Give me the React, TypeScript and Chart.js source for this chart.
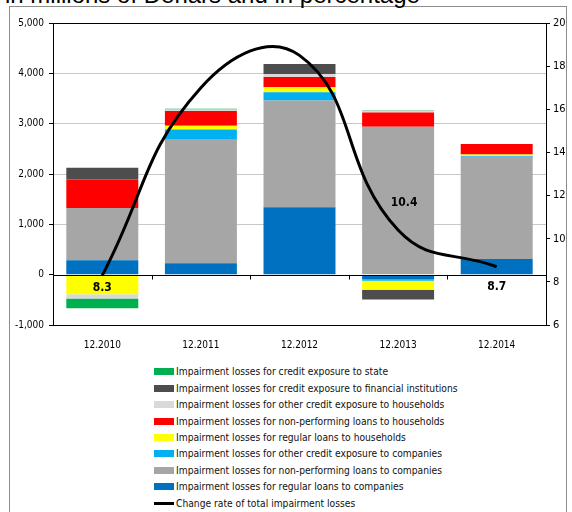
import React, { useEffect, useRef } from 'react';
import { Chart, registerables } from 'chart.js';
Chart.register(...registerables);

const categories = ['12.2010', '12.2011', '12.2012', '12.2013', '12.2014'];

const regularCompanies = [285, 225, 1340, -90, 310];
const nplCompanies = [1040, 2455, 2120, 2940, 2035];
const otherCompanies = [0, 205, 165, -30, 15];
const regularHouseholds = [-390, 75, 100, -180, 25];
const nplHouseholds = [565, 290, 200, 280, 210];
const otherHouseholds = [-85, 30, 60, 40, 0];
const financialInstitutions = [235, 0, 200, -195, -15];
const state = [-190, 15, 0, 10, 0];

const changeRate = [8.3, 17.0, 18.5, 10.4, 8.7];
const changeRateLabelShown = [true, false, false, true, true];

const leftTicks = [-1000, 0, 1000, 2000, 3000, 4000, 5000];
const rightTicks = [6, 8, 10, 12, 14, 16, 18, 20];

const barSeries = [
  { label: 'Impairment losses for regular loans to companies', data: regularCompanies, color: '#0070c0' },
  { label: 'Impairment losses for non-performing loans to companies', data: nplCompanies, color: '#a6a6a6' },
  { label: 'Impairment losses for other credit exposure to companies', data: otherCompanies, color: '#00b0f0' },
  { label: 'Impairment losses for regular loans to households', data: regularHouseholds, color: '#ffff00' },
  { label: 'Impairment losses for non-performing loans to households', data: nplHouseholds, color: '#ff0000' },
  { label: 'Impairment losses for other credit exposure to households', data: otherHouseholds, color: '#d9d9d9' },
  { label: 'Impairment losses for credit exposure to financial institutions', data: financialInstitutions, color: '#4d4d4d' },
  { label: 'Impairment losses for credit exposure to state', data: state, color: '#00b050' },
];
const lineLabel = 'Change rate of total impairment losses';

// label offsets (px) relative to the point, per category
const labelOffsets = [
  { dx: 0, dy: 12 },
  { dx: 0, dy: -14 },
  { dx: 0, dy: -14 },
  { dx: 6, dy: -27 },
  { dx: 0, dy: 20 },
];

const NARROW = '"DejaVu Sans Condensed", "Liberation Sans Narrow", "Liberation Sans", sans-serif';

const framePlugin = {
  id: 'frame',
  afterDatasetsDraw(chart: any) {
    const { ctx, chartArea } = chart;
    const y = chart.scales.y;
    const y0 = Math.round(y.getPixelForValue(0)) + 0.5;
    ctx.save();
    ctx.strokeStyle = '#000';
    ctx.lineWidth = 1;
    ctx.beginPath();
    ctx.moveTo(chartArea.left, y0);
    ctx.lineTo(chartArea.right, y0);
    const n = categories.length;
    const w = (chartArea.right - chartArea.left) / n;
    for (let i = 1; i < n; i++) {
      const xx = Math.round(chartArea.left + i * w) + 0.5;
      ctx.moveTo(xx, y0);
      ctx.lineTo(xx, y0 + 4);
    }
    ctx.stroke();
    ctx.beginPath();
    ctx.rect(Math.round(chartArea.left) + 0.5, Math.round(chartArea.top) + 0.5,
      Math.round(chartArea.right - chartArea.left), Math.round(chartArea.bottom - chartArea.top));
    ctx.stroke();
    const meta = chart.getDatasetMeta(chart.data.datasets.length - 1);
    ctx.font = 'bold 12px ' + NARROW;
    ctx.fillStyle = '#000';
    ctx.textAlign = 'center';
    ctx.textBaseline = 'middle';
    meta.data.forEach((pt: any, i: number) => {
      if (!changeRateLabelShown[i]) return;
      const o = labelOffsets[i];
      ctx.fillText(changeRate[i].toFixed(1), pt.x + o.dx, pt.y + o.dy);
    });
    ctx.restore();
  },
};

export default function App() {
  const ref = useRef<HTMLCanvasElement>(null);
  useEffect(() => {
    const datasets: any[] = barSeries.map((s) => ({
      type: 'bar',
      label: s.label,
      data: s.data,
      backgroundColor: s.color,
      borderWidth: 0,
      stack: 's',
      yAxisID: 'y',
      order: 1,
      barPercentage: 0.73,
      categoryPercentage: 1,
    }));
    datasets.push({
      type: 'line',
      label: lineLabel,
      data: changeRate,
      borderColor: '#000',
      borderWidth: 3,
      pointRadius: 0,
      tension: 0.45,
      yAxisID: 'y1',
      order: 0,
      fill: false,
    });
    const chart = new Chart(ref.current!, {
      type: 'bar',
      data: { labels: categories, datasets },
      options: {
        animation: false,
        responsive: false,
        layout: { padding: { left: 8, right: 4, top: 23, bottom: 0 } },
        plugins: { legend: { display: false }, tooltip: { enabled: false } },
        scales: {
          x: {
            stacked: true,
            grid: { display: false },
            border: { display: false },
            ticks: { color: '#000', font: { family: NARROW, size: 10 }, padding: 6 },
            afterFit: (s: any) => { s.height = 31; },
          },
          y: {
            stacked: true,
            min: -1000,
            max: 5000,
            position: 'left',
            afterBuildTicks: (s: any) => { s.ticks = leftTicks.map((v) => ({ value: v })); },
            ticks: {
              color: '#000',
              font: { family: NARROW, size: 10 },
              padding: 5,
              callback: (v: any) => Number(v).toLocaleString('en-US'),
            },
            grid: {
              color: (c: any) => (c.tick && c.tick.value === 0 ? 'rgba(0,0,0,0)' : '#c8c8c8'),
              tickColor: '#000',
              tickLength: 4,
            },
            border: { display: true, color: '#000' },
            afterFit: (s: any) => { s.width = 45; },
          },
          y1: {
            min: 6,
            max: 20,
            position: 'right',
            afterBuildTicks: (s: any) => { s.ticks = rightTicks.map((v) => ({ value: v })); },
            ticks: { color: '#000', font: { family: NARROW, size: 11 }, padding: 3 },
            grid: { drawOnChartArea: false, tickColor: '#000', tickLength: 4 },
            border: { display: true, color: '#000' },
            afterFit: (s: any) => { s.width = 22; },
          },
        },
      } as any,
      plugins: [framePlugin],
    } as any);
    return () => chart.destroy();
  }, []);

  const legendItems = [...barSeries].reverse();
  const rowH = 16.45;
  return (
    <div style={{ position: 'fixed', left: 0, top: 0, width: 572, height: 512, background: '#fff', overflow: 'hidden' }}>
      <div style={{ position: 'absolute', left: 9, top: 6, width: 556, height: 520, border: '1px solid #8c8c8c' }} />
      <div style={{ position: 'absolute', left: 5, top: -17, fontFamily: '"Liberation Sans", Arial, sans-serif', fontSize: 24, lineHeight: '24px', whiteSpace: 'nowrap', color: '#000' }}>
        in millions of Denars and in percentage
      </div>
      <canvas ref={ref} width={572} height={356} style={{ position: 'absolute', left: 0, top: 0, display: 'block' }} />
      <div style={{ position: 'absolute', left: 154, top: 371.7 - rowH / 2, fontFamily: NARROW, fontSize: 10.2, color: '#111' }}>
        {legendItems.map((s) => (
          <div key={s.label} style={{ height: rowH, display: 'flex', alignItems: 'center', whiteSpace: 'nowrap' }}>
            <span style={{ display: 'inline-block', width: 20, height: 7, background: s.color, marginRight: 2 }} />
            <span>{s.label}</span>
          </div>
        ))}
        <div style={{ height: rowH, display: 'flex', alignItems: 'center', whiteSpace: 'nowrap' }}>
          <span style={{ display: 'inline-block', width: 20, height: 3, background: '#000', marginRight: 2 }} />
          <span>{lineLabel}</span>
        </div>
      </div>
    </div>
  );
}
